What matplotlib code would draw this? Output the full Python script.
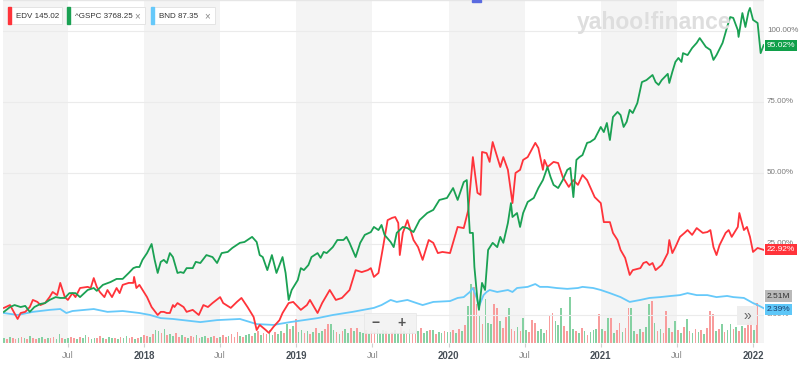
import numpy as np
import matplotlib
matplotlib.use('Agg')
from matplotlib import pyplot as plt
from matplotlib.patches import Rectangle, FancyBboxPatch
from matplotlib import transforms

plt.rcParams['font.family'] = ['Liberation Sans', 'DejaVu Sans']

# ---- data (decimal years, % change since start) ----
edv_x = [2017.08, 2017.12, 2017.17, 2017.19, 2017.22, 2017.25, 2017.27, 2017.30, 2017.32, 2017.35,
         2017.38, 2017.40, 2017.43, 2017.45, 2017.48, 2017.50, 2017.53, 2017.55, 2017.58, 2017.63,
         2017.65, 2017.67, 2017.69, 2017.71, 2017.74, 2017.76, 2017.79, 2017.82, 2017.84, 2017.86,
         2017.90, 2017.93, 2017.935, 2017.95, 2017.97, 2018.02, 2018.05, 2018.09, 2018.11, 2018.13,
         2018.15, 2018.17, 2018.19, 2018.20, 2018.22, 2018.26, 2018.28, 2018.32, 2018.36, 2018.39,
         2018.42, 2018.45, 2018.50, 2018.52, 2018.57, 2018.61, 2018.64, 2018.68, 2018.72, 2018.74,
         2018.76, 2018.80, 2018.82, 2018.85, 2018.89, 2018.91, 2018.95, 2018.98, 2019.03, 2019.07,
         2019.09, 2019.14, 2019.17, 2019.22, 2019.26, 2019.30, 2019.35, 2019.39, 2019.43, 2019.47,
         2019.49, 2019.51, 2019.54, 2019.57, 2019.60, 2019.63, 2019.65, 2019.67, 2019.68, 2019.70,
         2019.73, 2019.77, 2019.80, 2019.83, 2019.87, 2019.90, 2019.93, 2019.96, 2020.01, 2020.06,
         2020.10, 2020.13, 2020.16, 2020.19, 2020.21, 2020.22, 2020.25, 2020.27, 2020.29, 2020.34,
         2020.36, 2020.39, 2020.42, 2020.44, 2020.47, 2020.49, 2020.52, 2020.57, 2020.59, 2020.62,
         2020.63, 2020.65, 2020.69, 2020.72, 2020.75, 2020.79, 2020.82, 2020.85, 2020.88, 2020.91,
         2020.93, 2020.96, 2021.00, 2021.02, 2021.06, 2021.08, 2021.11, 2021.13, 2021.16, 2021.19,
         2021.21, 2021.26, 2021.28, 2021.30, 2021.32, 2021.34, 2021.36, 2021.40, 2021.44, 2021.45,
         2021.47, 2021.49, 2021.52, 2021.55, 2021.57, 2021.60, 2021.63, 2021.67, 2021.70, 2021.72,
         2021.74, 2021.76, 2021.78, 2021.82, 2021.84, 2021.86, 2021.90, 2021.91, 2021.94, 2021.96,
         2021.98, 2022.00, 2022.03, 2022.07]
edv_pct = [2.5, 3.5, -1.4, 0.7, 1.1, 2.8, 5.3, 4.6, 3.5, 4.2,
           6.3, 8.1, 7.0, 11.3, 6.3, 5.3, 7.7, 6.3, 9.5, 9.9,
           9.5, 13.0, 9.9, 8.1, 6.3, 8.8, 6.3, 9.5, 7.7, 10.6,
           11.3, 11.3, 13.4, 9.5, 10.6, 6.3, 2.8, 0.0, 1.1, 1.1,
           0.7, 0.7, 3.5, 2.8, 4.2, 2.8, 1.1, 1.8, 0.0, 3.5,
           2.8, 4.2, 6.3, 4.2, 2.5, 4.6, 6.0, 2.8, -0.7, -5.3,
           -3.5, -5.3, -6.3, -4.2, -1.8, 0.7, 4.2, 4.6, 1.8, 3.5,
           5.3, 0.7, 4.2, 8.8, 5.3, 6.0, 8.8, 15.8, 15.1, 15.8,
           16.5, 13.4, 14.8, 23.9, 33.4, 34.2, 34.5, 32.4, 21.1, 28.9,
           33.4, 26.4, 23.9, 19.4, 26.4, 25.4, 21.8, 22.2, 21.8, 31.0,
           30.6, 37.0, 55.6, 43.0, 42.3, 57.4, 57.0, 53.9, 60.9, 52.1,
           55.6, 51.1, 39.4, 50.0, 51.1, 54.6, 55.6, 60.6, 58.8, 51.1,
           54.6, 52.1, 53.9, 53.5, 48.6, 45.1, 47.5, 45.8, 49.3, 47.5,
           45.1, 41.5, 39.4, 32.7, 32.7, 28.9, 26.4, 22.9, 20.1, 14.1,
           15.8, 16.5, 18.3, 18.7, 17.6, 18.3, 15.8, 17.6, 21.8, 26.4,
           21.8, 23.9, 27.5, 28.9, 29.9, 28.2, 30.6, 28.9, 29.2, 29.9,
           23.9, 21.1, 24.6, 28.9, 29.9, 27.5, 31.0, 35.9, 29.9, 31.0,
           27.5, 22.2, 23.6, 22.92]

gspc_x = [2017.08, 2017.12, 2017.15, 2017.19, 2017.22, 2017.25, 2017.28, 2017.32, 2017.35, 2017.38,
          2017.42, 2017.45, 2017.48, 2017.51, 2017.55, 2017.58, 2017.63, 2017.67, 2017.69, 2017.73,
          2017.78, 2017.82, 2017.86, 2017.90, 2017.93, 2017.95, 2017.97, 2017.99, 2018.02, 2018.04,
          2018.05, 2018.07, 2018.09, 2018.11, 2018.13, 2018.15, 2018.17, 2018.19, 2018.22, 2018.24,
          2018.26, 2018.28, 2018.32, 2018.34, 2018.37, 2018.41, 2018.45, 2018.48, 2018.51, 2018.55,
          2018.58, 2018.63, 2018.66, 2018.71, 2018.74, 2018.76, 2018.78, 2018.81, 2018.84, 2018.87,
          2018.91, 2018.93, 2018.95, 2018.97, 2019.01, 2019.03, 2019.05, 2019.08, 2019.10, 2019.14,
          2019.16, 2019.18, 2019.20, 2019.24, 2019.27, 2019.31, 2019.33, 2019.35, 2019.37, 2019.39,
          2019.42, 2019.45, 2019.49, 2019.51, 2019.54, 2019.56, 2019.58, 2019.62, 2019.64, 2019.66,
          2019.70, 2019.73, 2019.77, 2019.81, 2019.86, 2019.90, 2019.94, 2019.99, 2020.03, 2020.06,
          2020.10, 2020.12, 2020.14, 2020.16, 2020.17, 2020.19, 2020.20, 2020.22, 2020.24, 2020.26,
          2020.29, 2020.32, 2020.34, 2020.36, 2020.39, 2020.41, 2020.42, 2020.45, 2020.47, 2020.49,
          2020.52, 2020.56, 2020.59, 2020.62, 2020.65, 2020.67, 2020.69, 2020.72, 2020.75, 2020.78,
          2020.80, 2020.82, 2020.84, 2020.86, 2020.88, 2020.91, 2020.93, 2020.96, 2020.98, 2021.00,
          2021.02, 2021.04, 2021.06, 2021.08, 2021.11, 2021.13, 2021.15, 2021.17, 2021.19, 2021.21,
          2021.24, 2021.27, 2021.30, 2021.34, 2021.36, 2021.38, 2021.40, 2021.44, 2021.45, 2021.47,
          2021.49, 2021.51, 2021.53, 2021.54, 2021.57, 2021.60, 2021.63, 2021.65, 2021.69, 2021.72,
          2021.74, 2021.76, 2021.80, 2021.83, 2021.85, 2021.87, 2021.90, 2021.905, 2021.93, 2021.95,
          2021.97, 2021.98, 2022.00, 2022.03, 2022.05, 2022.07]
gspc_pct = [1.1, 2.8, 3.5, 2.8, 3.2, 1.1, 2.8, 3.9, 4.2, 5.3,
            6.3, 6.0, 6.0, 7.7, 7.7, 6.3, 8.8, 9.5, 8.5, 10.6,
            11.6, 12.7, 12.7, 14.8, 16.5, 16.9, 16.9, 19.4, 21.8, 23.9,
            25.0, 19.4, 14.8, 18.7, 19.4, 18.3, 21.8, 20.4, 14.8, 15.1,
            14.8, 16.5, 16.5, 18.7, 18.3, 21.1, 20.4, 18.3, 21.8, 22.2,
            23.6, 25.4, 25.7, 27.5, 25.7, 21.1, 20.4, 15.8, 21.1, 14.8,
            20.4, 14.8, 5.3, 8.8, 12.3, 16.5, 15.8, 17.6, 20.4, 21.8,
            20.1, 22.2, 21.8, 23.9, 26.4, 26.4, 27.5, 25.4, 22.9, 20.4,
            25.4, 28.2, 29.2, 31.0, 29.9, 31.7, 28.2, 25.7, 23.9, 28.9,
            31.0, 30.6, 29.2, 33.4, 35.9, 37.0, 40.5, 41.2, 44.7, 40.5,
            46.8, 47.5, 28.9, 28.9, 16.9, 5.3, 1.8, 11.3, 8.8, 22.9,
            25.4, 23.9, 27.5, 25.4, 32.4, 39.4, 34.5, 35.9, 31.0, 35.9,
            39.8, 41.2, 44.7, 47.5, 52.1, 48.6, 45.8, 44.7, 47.5, 51.1,
            51.8, 41.5, 54.6, 55.6, 56.3, 60.6, 60.9, 62.0, 64.1, 66.2,
            64.4, 67.6, 61.6, 69.7, 71.5, 70.4, 66.2, 68.0, 72.2, 71.1,
            74.6, 82.0, 82.7, 84.5, 82.0, 81.0, 82.7, 84.9, 81.7, 85.6,
            89.1, 90.5, 89.1, 92.2, 91.5, 94.0, 95.8, 97.5, 94.4, 93.3,
            89.8, 91.5, 95.8, 101.4, 104.9, 104.6, 100.3, 97.9, 106.3, 101.4,
            106.7, 108.1, 103.9, 102.8, 92.2, 95.02]

bnd_x = [2017.08, 2017.17, 2017.27, 2017.38, 2017.45, 2017.49, 2017.53, 2017.67, 2017.76, 2017.86,
         2017.97, 2018.04, 2018.11, 2018.19, 2018.37, 2018.48, 2018.63, 2018.74, 2018.85, 2018.96,
         2019.14, 2019.24, 2019.37, 2019.51, 2019.56, 2019.62, 2019.66, 2019.73, 2019.79, 2019.83,
         2019.90, 2020.01, 2020.06, 2020.10, 2020.14, 2020.16, 2020.19, 2020.20, 2020.23, 2020.25,
         2020.27, 2020.32, 2020.39, 2020.42, 2020.45, 2020.52, 2020.57, 2020.60, 2020.65, 2020.71,
         2020.78, 2020.85, 2020.88, 2020.95, 2021.00, 2021.06, 2021.13, 2021.19, 2021.26, 2021.32,
         2021.39, 2021.46, 2021.52, 2021.57, 2021.63, 2021.70, 2021.76, 2021.83, 2021.87, 2021.94,
         2022.00, 2022.03, 2022.07]
bnd_pct = [0.7, 0.0, 1.1, 1.8, 2.1, 0.7, 1.4, 2.1, 1.1, 1.4,
           0.7, 0.0, -1.1, -1.4, -2.5, -1.8, -1.4, -3.2, -3.5, -2.5,
           -1.1, 0.0, 1.1, 2.5, 3.5, 5.3, 4.6, 5.3, 4.2, 3.5,
           4.6, 4.9, 6.0, 6.3, 8.1, 9.5, 5.3, 3.0, 7.0, 8.1,
           8.8, 8.1, 8.8, 8.1, 9.5, 9.9, 10.9, 9.9, 9.9, 9.5,
           9.2, 9.5, 9.9, 9.5, 8.8, 7.7, 6.3, 4.6, 5.3, 6.0,
           6.3, 6.7, 7.0, 7.7, 7.0, 7.0, 6.3, 6.7, 6.3, 6.0,
           4.2, 3.5, 2.39]

# weekly EDV volume (thousands of shares), first week starts 2017.08
vol_start = 2017.08
edv_volume = [250, 200, 300, 250, 200, 250, 300, 250, 200, 350, 250, 200, 250, 300, 200, 250, 250, 300, 200, 450,
              250, 200, 250, 300, 250, 200, 300, 250, 400, 300, 200, 250, 250, 350, 250, 200, 300, 250, 250, 200,
              300, 250, 350, 250, 300, 200, 250,
              300, 400, 350, 300, 450, 650, 600, 500, 700, 400, 450, 350, 500, 300, 400, 300, 250, 350, 300, 400,
              250, 300, 350, 250, 300, 350, 250, 300, 400, 300, 350, 450, 300, 550, 350, 300, 400, 450, 350, 500,
              600, 400, 500, 450, 650, 400, 550, 450, 600, 500, 950, 700,
              850, 1200, 550, 650, 500, 600, 450, 550, 750, 500, 600, 700, 950, 950, 650, 550, 450, 600, 700, 500,
              750, 600, 750, 550, 500, 650, 450, 600, 550, 700, 500, 650, 600, 450, 550, 650, 500, 800, 600, 500,
              700, 550, 450, 600, 750, 500, 600, 650, 650, 450, 550, 500,
              600, 550, 550, 650, 500, 700, 600, 900, 1850, 2950, 2800, 1950, 1350, 950, 2200, 1000, 950, 1950,
              1750, 1100, 750, 1300, 1750, 700, 600, 800, 600, 1250, 650, 550, 1150, 1000, 600, 700, 500, 650,
              1400, 1500, 1100, 900, 1750, 850, 600, 2300, 700, 600, 500, 750, 600, 400, 550, 650,
              700, 1450, 700, 600, 1250, 1250, 500, 650, 1000, 550, 750, 1750, 1750, 600, 450, 700, 550, 800,
              1950, 2100, 1000, 600, 700, 500, 1600, 750, 550, 1100, 650, 500, 800, 1200, 600, 500, 700, 550,
              650, 450, 750, 1600, 1450, 600, 700, 950, 550, 650, 950, 700, 800, 600, 850, 750, 1000, 1100,
              650, 2000]
edv_volume_dir = ("grgrrgrgrg" "rrggrgrrgg" "rggrrgrggr" "ggrrgrggrg" "rggrrgr"
                  "grrgrggrgr" "ggrrgrgrrg" "rggrgrrgrr" "grrrgrggrg" "rgrrggrggr" "gr"
                  "grggrgrgrg" "grrggrgrgg" "rgrggrgrrg" "ggrgrggrgr" "grrgrggrgr" "gg"
                  "rggrgrgrgg" "rrgrgggrrg" "rrgrrgrggr" "rrgggrrrgg" "grrggrgrgr" "gg"
                  "grgrgrgrrg" "rrggrgrggr" "grgrrgrgrg" "rgrgrgrgrr" "rgrgrggrgr" "grrrgr")

tick_pos = [2017.5, 2018, 2018.5, 2019, 2019.5, 2020, 2020.5, 2021, 2021.5, 2022]
tick_lbl = ['Jul', '2018', 'Jul', '2019', 'Jul', '2020', 'Jul', '2021', 'Jul', '2022']
pct_levels = [0, 25, 50, 75, 100]

RED = '#ff333a'
GREEN = '#1aa153'
BLUE = '#66c9fa'

fig = plt.figure(figsize=(8, 3.68), dpi=100)
rect = [3/800, 25/368, 761/800, 343/368]
ax_vol = fig.add_axes(rect)
ax = fig.add_axes(rect, sharex=ax_vol, label='price')
ax.patch.set_visible(False)

xlim = (2017.074, 2022.072)
ax_vol.set_xlim(xlim)
ax_vol.set_ylim(0, 17150)
ax.set_ylim(-9.86, 110.9)

# half-year shading
for yr in range(2017, 2023):
    ax_vol.axvspan(yr, yr + 0.5, color='#f4f4f4', lw=0, zorder=0)

# volume bars
vol_x = vol_start + np.arange(len(edv_volume)) / 52.18
bar_cols = ['#85d1a2' if c == 'g' else '#f89c9c' for c in edv_volume_dir]
ax_vol.bar(vol_x, edv_volume, width=0.011, color=bar_cols, lw=0, zorder=2)
ax_vol.set_yticks([])
ax_vol.tick_params(axis='x', bottom=False, labelbottom=False)
for s in ax_vol.spines.values():
    s.set_visible(False)

# grid lines
for lv in pct_levels:
    ax.axhline(lv, color='#ebebeb', lw=0.8, zorder=1)
ax.axhline(110.9, color='#e6e6e6', lw=1.0, zorder=1)

ax.plot(bnd_x, bnd_pct, color=BLUE, lw=1.3, zorder=3)
ax.plot(edv_x, edv_pct, color=RED, lw=1.3, zorder=4)
ax.plot(gspc_x, gspc_pct, color=GREEN, lw=1.3, zorder=5)

for s in ax.spines.values():
    s.set_visible(False)
ax.set_yticks([])
ax.set_xticks(tick_pos)
ax.set_xticklabels(tick_lbl)
ax.tick_params(axis='x', length=3, color='#d0d0d0', pad=3)
for lbl in ax.get_xticklabels():
    if lbl.get_text() == 'Jul':
        lbl.set_color('#8a8a8a')
        lbl.set_fontsize(6.6)
    else:
        lbl.set_color('#464e56')
        lbl.set_fontsize(6.9)
        lbl.set_fontweight('bold')
ax.axhline(-9.86, color='#e3e3e3', lw=0.8, zorder=1)

# right-hand percentage labels
trans = transforms.blended_transform_factory(ax.transAxes, ax.transData)
for lv in pct_levels:
    ax.text(1.004, lv, f'{lv:.2f}%', transform=trans, ha='left', va='center',
            fontsize=5.8, color='#7a7a7a', clip_on=False)

# last value badges
def badge(y, text, fc, tc, tr):
    ax.text(1.0035, y, text, transform=tr, ha='left', va='center', fontsize=6.0,
            color=tc, clip_on=False, zorder=10,
            bbox=dict(boxstyle='square,pad=0.25', fc=fc, ec='none'))

badge(gspc_pct[-1], f'{gspc_pct[-1]:.2f}%', '#10a04a', 'white', trans)
badge(edv_pct[-1], f'{edv_pct[-1]:.2f}%', RED, 'white', trans)
vtrans = transforms.blended_transform_factory(ax_vol.transAxes, ax_vol.transData)
badge(2350, '2.51M', '#b9b9b9', '#333333', vtrans)
badge(bnd_pct[-1] - 0.5, f'{bnd_pct[-1]:.2f}%', '#5ec7f8', '#1c3c6a', trans)

# watermark
fig.text(577/800, 1 - 22/368, 'yahoo!finance', fontsize=16.5, fontweight='bold',
         color='#dedede', ha='left', va='center')

# legend chips
def chip(x0, x1, label, color, closable):
    y0, y1 = 7, 24
    fig.add_artist(FancyBboxPatch((x0/800, 1 - y1/368), (x1 - x0)/800, (y1 - y0)/368,
                                  boxstyle='square,pad=0', transform=fig.transFigure,
                                  fc='white', ec='#e4e4e4', lw=0.7, zorder=20))
    fig.add_artist(Rectangle((x0/800, 1 - y1/368), 2.5/800, (y1 - y0)/368,
                             transform=fig.transFigure, color=color, zorder=21))
    fig.text((x0 + 8)/800, 1 - 16/368, label, fontsize=5.8, color='#333333',
             va='center', ha='left', zorder=22)
    if closable:
        fig.text((x1 - 8)/800, 1 - 16/368, '×', fontsize=7, color='#888888',
                 va='center', ha='center', zorder=22)

chip(8, 62, 'EDV 145.02', RED, False)
chip(67, 145, '^GSPC 3768.25', GREEN, True)
chip(151, 215, 'BND 87.35', BLUE, True)

# zoom controls
fig.add_artist(Rectangle((364/800, 1 - 333/368), 52/800, 20/368, transform=fig.transFigure,
                         fc='#f2f2f2', ec='#e6e6e6', lw=0.6, alpha=0.9, zorder=20))
fig.text(376/800, 1 - 323/368, '−', fontsize=10, fontweight='bold', color='#555555',
         ha='center', va='center', zorder=21)
fig.text(402/800, 1 - 323/368, '+', fontsize=10, fontweight='bold', color='#555555',
         ha='center', va='center', zorder=21)
fig.add_artist(Rectangle((737/800, 1 - 325/368), 20/800, 19/368, transform=fig.transFigure,
                         fc='#eeeeee', ec='none', alpha=0.95, zorder=20))
fig.text(747/800, 1 - 316/368, '»', fontsize=10, color='#666666', ha='center', va='center', zorder=21)
fig.add_artist(Rectangle((472/800, 1 - 2/368), 9/800, 2/368, transform=fig.transFigure,
                         color='#5a6be0', zorder=21))

fig.savefig('out.png', dpi=100, facecolor='white')
